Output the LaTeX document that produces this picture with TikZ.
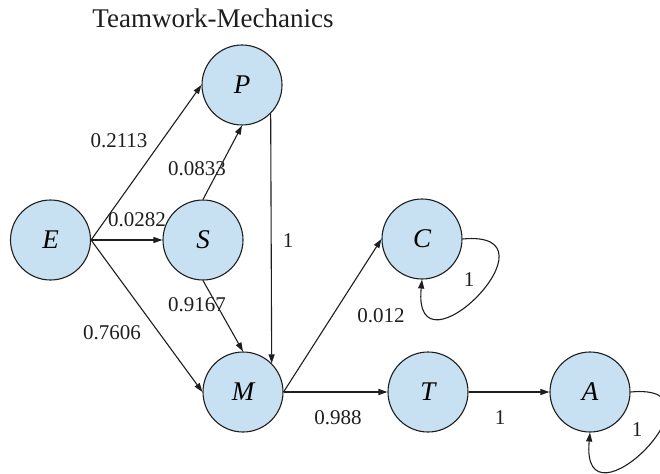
\documentclass[tikz,border=0pt]{standalone}
\usepackage{fontspec}
\setmainfont{Liberation Serif}
\usetikzlibrary{arrows.meta}
\definecolor{nodefill}{RGB}{200,225,242}
\definecolor{inkc}{RGB}{30,30,30}
\begin{document}
\begin{tikzpicture}[x=1pt,y=-1pt,
  state/.style={circle,draw=inkc,line width=1.1pt,fill=nodefill,minimum size=80pt,inner sep=0pt,font=\fontsize{27}{32}\selectfont\itshape},
  lbl/.style={font=\fontsize{21}{25}\selectfont,inner sep=0pt,text=inkc},
  edge/.style={draw=inkc,line width=1.1pt,-{Triangle[length=9pt,width=6pt]}}]
\useasboundingbox (0,0) rectangle (660,473);
\node[anchor=base,font=\fontsize{27}{32}\selectfont,text=inkc] (title) at (213,28) {Teamwork-Mechanics};
\node[state] (E) at (50.5,240) {E};
\node[state] (S) at (203,240) {S};
\node[state] (P) at (242,85) {P};
\node[state] (M) at (243,392) {M};
\node[state] (C) at (422,239) {C};
\node[state] (T) at (428,392) {T};
\node[state] (A) at (590,392) {A};
\draw[edge] (E.east) -- (P.west);
\draw[edge] (E.east) -- (S.west);
\draw[edge] (E.east) -- (M.west);
\draw[edge] (S.north) -- (P.south);
\draw[edge] (S.south) -- (M.north);
\draw[edge] (P.south east) -- (M.north east);
\draw[edge] (M.east) -- (C.west);
\draw[edge] (M.east) -- (T.west);
\draw[edge] (T.east) -- (A.west);
\draw[edge] (C.east) .. controls +(105,-10) and +(-10,105) .. (C.south);
\draw[edge] (A.east) .. controls +(105,-10) and +(-10,105) .. (A.south);
\node[lbl] (l1) at (119,141) {0.2113};
\node[lbl] (l2) at (197,169) {0.0833};
\node[lbl] (l3) at (137,220) {0.0282};
\node[lbl] (l4) at (288,241) {1};
\node[lbl] (l5) at (197,305) {0.9167};
\node[lbl] (l6) at (112,333) {0.7606};
\node[lbl] (l7) at (381,316) {0.012};
\node[lbl] (l8) at (338,418) {0.988};
\node[lbl] (l9) at (500,418) {1};
\node[lbl] (l10) at (469,280) {1};
\node[lbl] (l11) at (637,430) {1};
\end{tikzpicture}
\end{document}
